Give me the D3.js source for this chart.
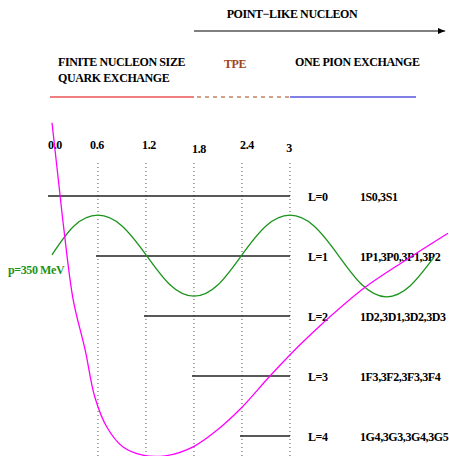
<!DOCTYPE html>
<html>
<head>
<meta charset="utf-8">
<script src="https://cdn.jsdelivr.net/npm/d3@7"></script>
<style>
  body { margin: 0; background: #fff; }
  text { font-family: "Liberation Serif", "Times New Roman", serif; font-weight: bold; letter-spacing: -0.4px; }
</style>
</head>
<body>
<div id="chart-area"></div>
<script>
// separation r (fm) ticks along the top
const rTicks = [0, 0.6, 1.2, 1.8, 2.4, 3];
const tickLabels = ["0.0", "0.6", "1.2", "1.8", "2.4", "3"];

// partial wave levels
const levels = [0, 1, 2, 3, 4];
const levelStart = [0, 0.6, 1.2, 1.8, 2.4];
const levelEnd = 3;
const levelLabels = ["L=0", "L=1", "L=2", "L=3", "L=4"];
const waveLabels = ["1S0,3S1", "1P1,3P0,3P1,3P2", "1D2,3D1,3D2,3D3", "1F3,3F2,3F3,3F4", "1G4,3G3,3G4,3G5"];

// regions of the interaction (r from, r to)
const regionNames = ["FINITE NUCLEON SIZE", "TPE", "ONE PION EXCHANGE"];
const regionFrom = [0, 1.8, 3];
const regionTo = [1.8, 3, 4.575];
const arrowFrom = 1.8, arrowTo = 4.94;

// p=350 MeV wave (r, level units)
const waveR = [0.025, 0.3, 0.6, 0.9, 1.2, 1.5, 1.8, 2.1, 2.4, 2.7, 3.0, 3.3, 3.6, 3.9, 4.2, 4.5, 4.8];
const waveV = [0.98, 0.5, 0.32, 0.5, 0.98, 1.48, 1.67, 1.48, 0.98, 0.5, 0.32, 0.5, 0.98, 1.48, 1.68, 1.5, 1.02];

// potential curve (r, level units)
const potR = [0.025, 0.125, 0.175, 0.29, 0.44, 0.56, 0.71, 0.91, 1.16, 1.44, 1.79, 2.09, 2.4, 2.75, 3.125, 3.41, 3.91, 4.41, 4.975];
const potV = [-1.22, -0.02, 0.57, 1.73, 2.57, 3.35, 3.85, 4.18, 4.32, 4.33, 4.18, 3.9, 3.52, 3.0, 2.48, 2.12, 1.55, 1.1, 0.62];

const width = 449, height = 456;

const svg = d3.select("#chart-area")
  .append("svg")
    .attr("width", width)
    .attr("height", height);

const x = d3.scaleLinear().domain([0, 3]).range([50, 290]);
const y = d3.scaleLinear().domain([0, 4]).range([196, 436]);

// top arrow + title
svg.append("defs").append("marker")
    .attr("id", "head")
    .attr("viewBox", "0 0 10 10")
    .attr("refX", 10).attr("refY", 5)
    .attr("markerWidth", 6).attr("markerHeight", 6)
    .attr("orient", "auto")
  .append("path")
    .attr("d", "M0,1L10,5L0,9Z")
    .attr("fill", "#000");

svg.append("line")
    .attr("x1", x(arrowFrom)).attr("x2", x(arrowTo))
    .attr("y1", 31).attr("y2", 31)
    .attr("stroke", "#000").attr("stroke-width", 1.2)
    .attr("marker-end", "url(#head)");

svg.append("text")
    .attr("x", 292).attr("y", 18)
    .attr("text-anchor", "middle")
    .attr("font-size", "12px")
    .text("POINT\u2212LIKE NUCLEON");

// region labels
svg.append("text").attr("x", 58).attr("y", 66).attr("font-size", "12px").text(regionNames[0]);
svg.append("text").attr("x", 58).attr("y", 82).attr("font-size", "12px").text("QUARK EXCHANGE");
svg.append("text").attr("x", 224).attr("y", 68).attr("font-size", "12px").attr("fill", "#a0451a").text(regionNames[1]);
svg.append("text").attr("x", 295).attr("y", 66).attr("font-size", "12px").text(regionNames[2]);

const regionColors = ["#e00000", "#a0451a", "#0000cc"];
svg.selectAll(".region")
  .data(regionNames)
  .enter().append("line")
    .attr("class", "region")
    .attr("x1", (d, i) => x(regionFrom[i]) + (i === 1 ? 3 : 0))
    .attr("x2", (d, i) => x(regionTo[i]))
    .attr("y1", 97).attr("y2", 97)
    .attr("stroke", (d, i) => regionColors[i])
    .attr("stroke-width", 1.2)
    .attr("stroke-dasharray", (d, i) => i === 1 ? "4,4" : null);

// tick labels
const tickNudge = [5, -1, 3, 5, 5, -1];
const tickDrop = [0, 0, 0, 4, 0, 3];
svg.selectAll(".tick-label")
  .data(rTicks)
  .enter().append("text")
    .attr("class", "tick-label")
    .attr("x", (d, i) => x(d) + tickNudge[i])
    .attr("y", (d, i) => 149 + tickDrop[i])
    .attr("text-anchor", "middle")
    .attr("font-size", "12px")
    .text((d, i) => tickLabels[i]);

// dotted guides
svg.selectAll(".guide")
  .data(rTicks.slice(1))
  .enter().append("line")
    .attr("class", "guide")
    .attr("x1", d => x(d)).attr("x2", d => x(d))
    .attr("y1", 163).attr("y2", height)
    .attr("stroke", "#555")
    .attr("stroke-width", 1)
    .attr("stroke-dasharray", "1,3");

// level lines
svg.selectAll(".level")
  .data(levels)
  .enter().append("line")
    .attr("class", "level")
    .attr("x1", (d, i) => x(levelStart[i]) - 2)
    .attr("x2", x(levelEnd))
    .attr("y1", d => y(d)).attr("y2", d => y(d))
    .attr("stroke", "#222")
    .attr("stroke-width", 1.6);

svg.selectAll(".level-label")
  .data(levels)
  .enter().append("text")
    .attr("class", "level-label")
    .attr("x", 308)
    .attr("y", d => y(d) + 5)
    .attr("font-size", "12px")
    .text((d, i) => levelLabels[i]);

svg.selectAll(".wave-label")
  .data(levels)
  .enter().append("text")
    .attr("class", "wave-label")
    .attr("x", 360)
    .attr("y", d => y(d) + 5)
    .attr("font-size", "12px")
    .text((d, i) => waveLabels[i]);

// green wave
svg.append("path")
    .datum(waveR.map((r, i) => [r, waveV[i]]))
    .attr("d", d3.line()
        .x(d => x(d[0]))
        .y(d => y(d[1]))
        .curve(d3.curveNatural))
    .attr("fill", "none")
    .attr("stroke", "#1a941a")
    .attr("stroke-width", 1.3);

svg.append("text")
    .attr("x", 8).attr("y", 274)
    .attr("font-size", "12px")
    .attr("fill", "#1a941a")
    .text("p=350 MeV");

// magenta curve
svg.append("path")
    .datum(potR.map((r, i) => [r, potV[i]]))
    .attr("d", d3.line()
        .x(d => x(d[0]))
        .y(d => y(d[1]))
        .curve(d3.curveCatmullRom.alpha(0.5)))
    .attr("fill", "none")
    .attr("stroke", "#ff00ff")
    .attr("stroke-width", 1.3);
</script>
</body>
</html>
